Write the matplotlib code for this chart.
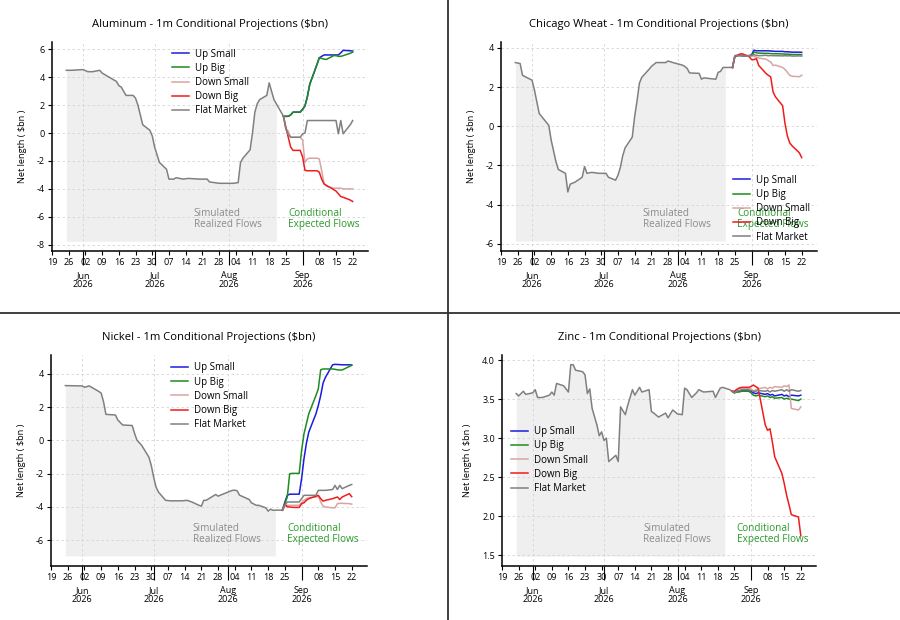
import numpy as np
import pandas as pd
import matplotlib
matplotlib.use("Agg")
import matplotlib.pyplot as plt
import matplotlib.dates as mdates
from matplotlib.lines import Line2D

plt.rcParams['font.family'] = ['Open Sans', 'DejaVu Sans']
plt.rcParams['axes.unicode_minus'] = False

# business days of the projection window
proj_dates = pd.bdate_range("2026-08-24", "2026-09-22")
series_names = ["Up Small", "Up Big", "Down Small", "Down Big", "Flat Market"]
series_colors = ["#1c1ce0", "#1e8c1e", "#d8a4a4", "#f01c1c", "#808080"]

# ---------------- Aluminum ----------------
alu_hist_dates = ["05-25", "05-27", "06-01", "06-03", "06-05", "06-08", "06-09", "06-11",
                  "06-15", "06-16", "06-17", "06-19", "06-22", "06-23", "06-24", "06-26",
                  "06-29", "06-30", "07-01", "07-03", "07-06", "07-07", "07-09", "07-10",
                  "07-13", "07-15", "07-20", "07-23", "07-24", "07-28", "08-03", "08-05",
                  "08-06", "08-07", "08-10", "08-11", "08-12", "08-13", "08-14", "08-17",
                  "08-18", "08-19", "08-20", "08-21", "08-24"]
alu_hist = [4.5, 4.5, 4.55, 4.4, 4.4, 4.5, 4.3, 4.1,
            3.7, 3.4, 3.3, 2.7, 2.7, 2.5, 2.0, 0.6,
            0.2, -0.2, -1.0, -2.1, -2.6, -3.3, -3.3, -3.2,
            -3.3, -3.25, -3.3, -3.3, -3.5, -3.6, -3.6, -3.55,
            -2.1, -1.8, -1.2, 0.0, 1.5, 2.1, 2.4, 2.7,
            3.6, 3.0, 2.4, 2.1, 1.2]
alu_up_small = [1.2, 1.2, 1.2, 1.3, 1.5, 1.5, 1.7, 1.95, 2.6, 3.5, 4.9, 5.4,
                5.5, 5.6, 5.6, 5.6, 5.6, 5.6, 5.75, 5.93, 5.9, 5.88]
alu_up_big = [1.2, 1.2, 1.2, 1.3, 1.5, 1.5, 1.7, 1.95, 2.6, 3.5, 4.9, 5.4,
              5.35, 5.3, 5.28, 5.55, 5.55, 5.5, 5.5, 5.55, 5.72, 5.8]
alu_down_small = [1.2, 0.3, 0.15, -0.3, -0.3, -0.3, -0.5, -2.1, -1.85, -1.8, -1.8, -1.85,
                  -2.7, -3.6, -3.8, -3.95, -3.95, -3.95, -3.95, -4.0, -4.0, -4.0]
alu_down_big = [1.2, 0.4, -0.3, -1.0, -1.24, -1.24, -1.7, -2.67, -2.7, -2.7, -2.7, -2.8,
                -3.3, -3.65, -3.75, -4.05, -4.15, -4.35, -4.55, -4.6, -4.8, -4.9]
alu_flat = [1.2, 0.3, -0.1, -0.3, -0.3, -0.3, -0.05, 0.0, 0.9, 0.9, 0.9, 0.9,
            0.9, 0.9, 0.9, 0.9, 0.9, -0.05, 0.9, -0.05, 0.6, 0.9]

# ---------------- Chicago Wheat ----------------
wht_hist_dates = ["05-25", "05-27", "05-28", "06-01", "06-02", "06-04", "06-08", "06-09",
                  "06-11", "06-12", "06-15", "06-16", "06-17", "06-19", "06-22", "06-23",
                  "06-24", "06-26", "06-29", "06-30", "07-02", "07-03", "07-06", "07-07",
                  "07-08", "07-09", "07-10", "07-13", "07-14", "07-15", "07-16", "07-17",
                  "07-20", "07-21", "07-23", "07-27", "07-28", "07-30", "08-03", "08-04",
                  "08-05", "08-06", "08-10", "08-11", "08-12", "08-14", "08-17", "08-18",
                  "08-19", "08-20", "08-21", "08-24"]
wht_hist = [3.25, 3.2, 2.6, 2.35, 1.85, 0.65, 0.05, -0.7,
            -1.8, -2.2, -2.4, -3.35, -2.95, -2.85, -2.6, -2.05,
            -2.4, -2.35, -2.4, -2.4, -2.4, -2.6, -2.75, -2.5,
            -2.1, -1.5, -1.1, -0.55, 0.5, 1.3, 2.2, 2.5,
            2.9, 3.05, 3.25, 3.25, 3.33, 3.25, 3.12, 3.05,
            2.95, 2.72, 2.7, 2.4, 2.47, 2.44, 2.4, 2.75,
            2.8, 3.0, 3.0, 3.0]
wht_up_small = [3.0, 3.6, 3.6, 3.62, 3.6, 3.6, 3.65, 3.88, 3.85, 3.85, 3.85, 3.85,
                3.84, 3.83, 3.82, 3.82, 3.8, 3.8, 3.79, 3.78, 3.78, 3.77]
wht_up_big = [3.0, 3.6, 3.6, 3.62, 3.6, 3.6, 3.6, 3.78, 3.75, 3.73, 3.72, 3.72,
              3.71, 3.7, 3.7, 3.69, 3.68, 3.68, 3.67, 3.66, 3.66, 3.65]
wht_down_small = [3.0, 3.6, 3.62, 3.65, 3.63, 3.6, 3.6, 3.57, 3.52, 3.48, 3.42, 3.35,
                  3.28, 3.1, 3.12, 3.0, 2.9, 2.75, 2.6, 2.55, 2.53, 2.6]
wht_down_big = [3.0, 3.55, 3.62, 3.68, 3.7, 3.55, 3.4, 3.4, 3.45, 3.1, 2.7, 2.6,
                2.52, 1.75, 1.5, 1.05, 0.14, -0.5, -0.85, -1.0, -1.35, -1.6]
wht_flat = [3.0, 3.6, 3.6, 3.6, 3.6, 3.58, 3.62, 3.65, 3.62, 3.6, 3.62, 3.6,
            3.61, 3.6, 3.6, 3.59, 3.6, 3.59, 3.6, 3.58, 3.59, 3.58]

# ---------------- Nickel ----------------
nik_hist_dates = ["05-25", "06-01", "06-02", "06-04", "06-05", "06-08", "06-09", "06-10",
                  "06-11", "06-15", "06-16", "06-18", "06-22", "06-23", "06-24", "06-26",
                  "06-29", "06-30", "07-01", "07-02", "07-03", "07-06", "07-08", "07-13",
                  "07-15", "07-17", "07-20", "07-21", "07-22", "07-23", "07-27", "07-28",
                  "07-30", "08-03", "08-04", "08-05", "08-06", "08-10", "08-11", "08-13",
                  "08-14", "08-17", "08-18", "08-19", "08-20", "08-21", "08-24"]
nik_hist = [3.3, 3.28, 3.2, 3.28, 3.2, 2.95, 2.85, 2.33,
            1.57, 1.53, 1.23, 0.93, 0.9, 0.43, 0.02, -0.3,
            -1.0, -1.5, -2.2, -2.8, -3.1, -3.6, -3.63, -3.63,
            -3.6, -3.7, -3.9, -3.95, -3.6, -3.6, -3.25, -3.35,
            -3.23, -3.0, -2.99, -3.03, -3.29, -3.55, -3.75, -3.9,
            -3.9, -4.05, -4.25, -4.13, -4.2, -4.19, -4.19]
nik_up_small = [-4.19, -3.7, -3.3, -3.23, -3.23, -3.23, -2.3, -1.1, -0.18, 0.5, 1.6, 2.1,
                2.7, 3.45, 3.8, 4.55, 4.58, 4.57, 4.56, 4.55, 4.55, 4.54]
nik_up_big = [-4.19, -3.8, -3.4, -2.0, -1.98, -1.98, -0.6, 0.4, 1.0, 1.6, 2.7, 3.1,
              4.25, 4.3, 4.3, 4.3, 4.28, 4.25, 4.24, 4.24, 4.45, 4.52]
nik_down_small = [-4.19, -3.95, -3.9, -3.9, -3.9, -3.9, -3.75, -3.6, -3.5, -3.45, -3.4, -3.35,
                  -3.7, -3.95, -4.0, -4.05, -4.05, -3.8, -3.78, -3.78, -3.8, -3.83]
nik_down_big = [-4.19, -3.83, -3.99, -4.0, -4.02, -4.03, -3.8, -3.75, -3.6, -3.5, -3.35, -3.3,
                -3.5, -3.65, -3.6, -3.5, -3.45, -3.4, -3.55, -3.4, -3.2, -3.38]
nik_flat = [-4.19, -3.9, -3.7, -3.7, -3.7, -3.7, -3.5, -3.3, -3.3, -3.3, -3.3, -3.0,
            -3.0, -3.0, -3.0, -2.95, -2.7, -2.95, -2.7, -2.9, -2.7, -2.65]

# ---------------- Zinc ----------------
znc_hist_dates = ["05-25", "05-26", "05-27", "05-28", "05-29", "06-01", "06-02", "06-03",
                  "06-05", "06-08", "06-09", "06-10", "06-11", "06-14", "06-16", "06-17",
                  "06-18", "06-19", "06-22", "06-23", "06-24", "06-25", "06-26", "06-28",
                  "06-29", "06-30", "07-01", "07-02", "07-03", "07-06", "07-07", "07-08",
                  "07-10", "07-11", "07-13", "07-14", "07-16", "07-17", "07-20", "07-21",
                  "07-22", "07-24", "07-27", "07-28", "07-30", "08-01", "08-03", "08-04",
                  "08-05", "08-07", "08-09", "08-10", "08-12", "08-16", "08-17", "08-19",
                  "08-20", "08-21", "08-23", "08-24"]
znc_hist = [3.57, 3.54, 3.57, 3.6, 3.56, 3.58, 3.62, 3.52,
            3.52, 3.55, 3.59, 3.55, 3.7, 3.67, 3.59, 3.94,
            3.94, 3.87, 3.85, 3.81, 3.57, 3.63, 3.38, 3.17,
            3.03, 3.08, 2.97, 3.0, 2.7, 2.78, 2.7, 3.4,
            3.3, 3.42, 3.62, 3.55, 3.65, 3.59, 3.62, 3.34,
            3.32, 3.27, 3.32, 3.26, 3.36, 3.31, 3.3, 3.64,
            3.62, 3.52, 3.58, 3.62, 3.59, 3.6, 3.52, 3.64,
            3.65, 3.64, 3.62, 3.6]
znc_up_small = [3.6, 3.58, 3.6, 3.6, 3.61, 3.61, 3.6, 3.58, 3.57, 3.58, 3.56, 3.57,
                3.55, 3.56, 3.54, 3.56, 3.54, 3.55, 3.53, 3.55, 3.54, 3.55]
znc_up_big = [3.6, 3.58, 3.59, 3.59, 3.6, 3.6, 3.58, 3.55, 3.54, 3.55, 3.53, 3.54,
              3.52, 3.53, 3.51, 3.52, 3.5, 3.51, 3.5, 3.5, 3.48, 3.5]
znc_down_small = [3.6, 3.6, 3.63, 3.64, 3.64, 3.64, 3.63, 3.6, 3.62, 3.63, 3.65, 3.63,
                  3.65, 3.64, 3.66, 3.65, 3.67, 3.66, 3.68, 3.38, 3.36, 3.4]
znc_down_big = [3.6, 3.6, 3.62, 3.64, 3.65, 3.65, 3.66, 3.68, 3.66, 3.64, 3.17, 3.1,
                3.12, 2.95, 2.76, 2.55, 2.42, 2.27, 2.15, 2.02, 1.99, 1.75]
znc_flat = [3.6, 3.58, 3.6, 3.61, 3.62, 3.62, 3.61, 3.6, 3.6, 3.61, 3.6, 3.61,
            3.59, 3.61, 3.6, 3.62, 3.6, 3.62, 3.6, 3.62, 3.6, 3.61]


def draw_panel(rect, title, hist_dates, hist_vals, series, ylim, yticks, fill_bottom,
               leg_loc, leg_anchor, yfmt="%d"):
    ax = fig.add_axes(rect)
    hd = pd.to_datetime(["2026-" + d for d in hist_dates])
    hv = np.array(hist_vals)
    mask = hd <= pd.Timestamp("2026-08-21")
    ax.fill_between(hd[mask], hv[mask], fill_bottom, color="#efefef", lw=0, zorder=1)
    ax.plot(hd, hv, color="#808080", lw=1.1, zorder=3)
    for name, col, vals in zip(series_names, series_colors, series):
        ax.plot(proj_dates, vals, color=col, lw=1.1, label=name, zorder=3)

    ax.set_xlim(pd.Timestamp("2026-05-19"), pd.Timestamp("2026-09-28 10:00"))
    ax.set_ylim(*ylim)
    ax.set_yticks(yticks)
    ax.yaxis.set_major_formatter(matplotlib.ticker.FormatStrFormatter(yfmt))

    ax.xaxis.set_major_locator(mdates.MonthLocator())
    ax.xaxis.set_major_formatter(mdates.DateFormatter("%b\n%Y"))
    ax.xaxis.set_minor_locator(mdates.WeekdayLocator(byweekday=mdates.TU))
    ax.xaxis.set_minor_formatter(mdates.DateFormatter("%d"))
    ax.tick_params(axis="x", which="major", length=10, pad=4.5, labelsize=6.5, width=0.8)
    ax.tick_params(axis="x", which="minor", length=3, pad=2, labelsize=6.5, width=0.8)
    ax.tick_params(axis="y", length=3, pad=2, labelsize=6.5, width=0.8)
    for lab in ax.xaxis.get_majorticklabels():
        lab.set_linespacing(1.05)

    ax.grid(True, which="major", linestyle=(0, (3, 3)), color="#d4d4d4", lw=0.6)
    for s in ["top", "right"]:
        ax.spines[s].set_visible(False)
    for s in ["left", "bottom"]:
        ax.spines[s].set_linewidth(1.1)

    ax.set_title(title, fontsize=8.1, pad=10.5)
    ax.set_ylabel("Net length ( \\$bn )", fontsize=6.6, labelpad=7)

    ax.text(0.449, 0.153, "Simulated\nRealized Flows", transform=ax.transAxes,
            color="#8c8c8c", fontsize=7.2, ha="left", va="center", linespacing=1.0)
    ax.text(0.747, 0.153, "Conditional\nExpected Flows", transform=ax.transAxes,
            color="#2a9a2a", fontsize=7.2, ha="left", va="center", linespacing=1.0)

    ax.legend(loc=leg_loc, bbox_to_anchor=leg_anchor, frameon=False, fontsize=7,
              borderpad=0, borderaxespad=0, handlelength=1.75, handletextpad=0.6,
              labelspacing=0.33)
    return ax


fig = plt.figure(figsize=(9, 6.2), dpi=100)

draw_panel([0.0578, 0.5952, 0.3511, 0.3371], "Aluminum - 1m Conditional Projections ($bn)",
           alu_hist_dates, alu_hist,
           [alu_up_small, alu_up_big, alu_down_small, alu_down_big, alu_flat],
           (-8.45, 6.53), [-8, -6, -4, -2, 0, 2, 4, 6], -7.75,
           "upper left", (0.38, 0.968))

draw_panel([0.5567, 0.5952, 0.3511, 0.3371], "Chicago Wheat - 1m Conditional Projections ($bn)",
           wht_hist_dates, wht_hist,
           [wht_up_small, wht_up_big, wht_down_small, wht_down_big, wht_flat],
           (-6.36, 4.3), [-6, -4, -2, 0, 2, 4], -5.85,
           "lower left", (0.734, 0.04))

draw_panel([0.0567, 0.0871, 0.3511, 0.3403], "Nickel - 1m Conditional Projections ($bn)",
           nik_hist_dates, nik_hist,
           [nik_up_small, nik_up_big, nik_down_small, nik_down_big, nik_flat],
           (-7.55, 5.14), [-6, -4, -2, 0, 2, 4], -6.94,
           "upper left", (0.38, 0.965))

draw_panel([0.5578, 0.0871, 0.3489, 0.3403], "Zinc - 1m Conditional Projections ($bn)",
           znc_hist_dates, znc_hist,
           [znc_up_small, znc_up_big, znc_down_small, znc_down_big, znc_flat],
           (1.363, 4.064), [1.5, 2.0, 2.5, 3.0, 3.5, 4.0], 1.49,
           "upper left", (0.029, 0.663), yfmt="%.1f")

# panel dividers
fig.add_artist(Line2D([448 / 900, 448 / 900], [0, 1], color="#303030", lw=1.3))
fig.add_artist(Line2D([0, 1], [1 - 313 / 620, 1 - 313 / 620], color="#303030", lw=1.3))

fig.savefig("out.png", dpi=100)
